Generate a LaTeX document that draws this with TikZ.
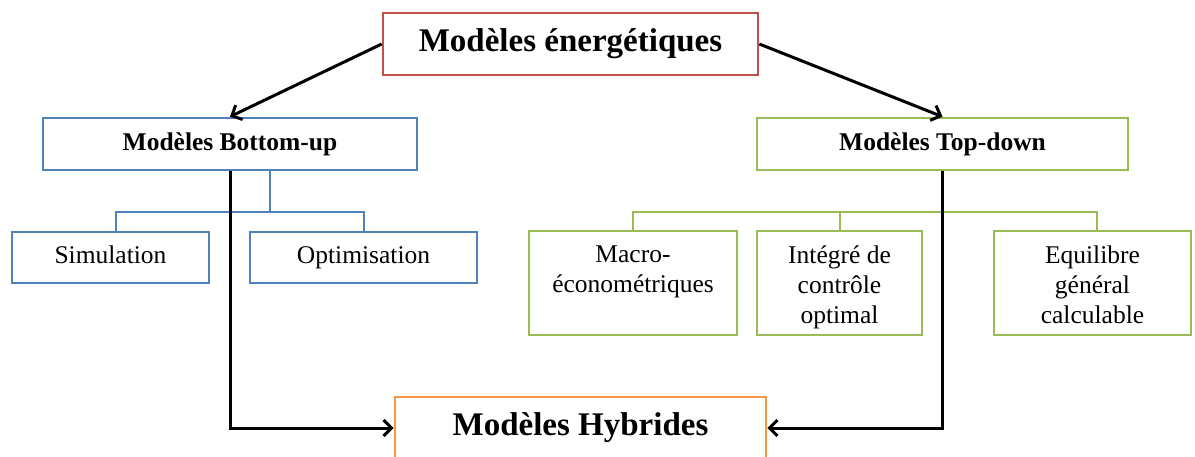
\documentclass[tikz,border=0pt]{standalone}
\usepackage{fontspec}
\setmainfont{Liberation Serif}
\usetikzlibrary{arrows.meta}

\definecolor{boxred}{HTML}{C0504D}
\definecolor{boxblue}{HTML}{4F81BD}
\definecolor{boxgreen}{HTML}{9BBB59}
\definecolor{boxorange}{HTML}{F79646}

\begin{document}
\begin{tikzpicture}[x=1pt, y=-1pt,
  box/.style={draw, line width=2.6pt, fill=white, inner sep=0pt},
  bigtitle/.style={font=\fontsize{33}{38}\selectfont\bfseries},
  subtitle/.style={font=\fontsize{25.5}{30}\selectfont\bfseries},
  plain/.style={font=\fontsize{25.5}{30}\selectfont},
  plainline/.style={plain, text height=17.5pt, text depth=5.5pt},
  label/.style={plain, align=center, inner sep=0pt, anchor=north},
  link/.style={draw=black, line width=3pt, -{Straight Barb[length=8pt,width=16pt]}},
  bluetree/.style={draw=boxblue, line width=2pt},
  greentree/.style={draw=boxgreen, line width=2pt}
]
\useasboundingbox (0,0) rectangle (1195,457);
\fill[white] (0,0) rectangle (1195,457);

% junction points of the two branch trees
\coordinate (bj) at (270,212);
\coordinate (gj) at (942.5,212);

% main boxes
\node[box, draw=boxred, bigtitle, minimum width=375pt, minimum height=62pt]
  (top) at (570.5,44) {Modèles énergétiques};
\node[box, draw=boxblue, subtitle, minimum width=374pt, minimum height=52pt]
  (bu) at (230,144) {Modèles Bottom-up};
\node[box, draw=boxgreen, subtitle, minimum width=371pt, minimum height=52pt]
  (td) at (942.5,144) {Modèles Top-down};
\node[box, draw=boxorange, bigtitle, minimum width=371pt, minimum height=62pt]
  (hyb) at (580.5,428) {Modèles Hybrides};

% bottom-up branches
\node[box, draw=boxblue, plainline, minimum width=197pt, minimum height=51pt]
  (sim) at (110.5,257.5) {Simulation};
\node[box, draw=boxblue, plainline, minimum width=227pt, minimum height=51pt]
  (opt) at (363.5,257.5) {Optimisation};

% top-down branches
\node[box, draw=boxgreen, minimum width=208pt, minimum height=104pt]
  (mac) at (633,283) {};
\node[box, draw=boxgreen, minimum width=165pt, minimum height=104pt]
  (int) at (839.5,283) {};
\node[box, draw=boxgreen, minimum width=197pt, minimum height=104pt]
  (equ) at (1092.5,283) {};
\node[label] (macT) at ([yshift=-16pt]mac.north) {Macro-\\économétriques};
\node[label] (intT) at ([yshift=-16pt]int.north) {Intégré de\\contrôle\\optimal};
\node[label] (equT) at ([yshift=-16pt]equ.north) {Equilibre\\général\\calculable};

% tree connectors
\draw[bluetree] (bj |- bu.south) -- (bj);
\draw[bluetree] ([xshift=5.5pt]sim.north) -- ([xshift=5.5pt]sim.north |- bj)
  -- (opt.north |- bj) -- (opt.north);
\draw[greentree] (td.south) -- (gj);
\draw[greentree] (mac.north) -- (mac.north |- gj) -- ([xshift=4.5pt]equ.north |- gj)
  -- ([xshift=4.5pt]equ.north);
\draw[greentree] (int.north) -- (int.north |- gj);

% arrows
\draw[link] (top.west) -- (bu.north);
\draw[link] (top.east) -- (td.north);
\draw[link] (bu.south) |- (hyb.west);
\draw[link] (td.south) |- (hyb.east);
\end{tikzpicture}
\end{document}
